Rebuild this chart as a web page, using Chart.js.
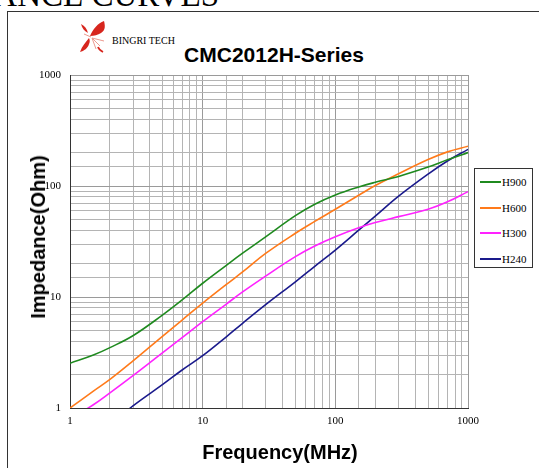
<!DOCTYPE html>
<html>
<head>
<meta charset="utf-8">
<script src="https://cdn.jsdelivr.net/npm/chart.js@4"></script>
<style>
  html, body { margin: 0; padding: 0; background: #fff; }
  #wrap { position: relative; width: 539px; height: 468px; overflow: hidden; }
  #frame { position: absolute; left: 7px; top: 11px; width: 540px; height: 470px;
           border-top: 1px solid #333; border-left: 1px solid #333; }
  #chart { position: absolute; left: 0; top: 0; }
  .txt { position: absolute; white-space: nowrap; color: #000; }
  #topText { right: 320px; top: -21px; font: 33px/33px 'Liberation Serif', serif; }
  #brand { left: 112px; top: 36px; font: 10px/10px 'Liberation Serif', serif; }
  #title { left: 274px; top: 44px; transform: translateX(-50%); font: bold 21px/21px 'Liberation Sans', Arial, sans-serif; }
  #xTitle { left: 280px; top: 442px; transform: translateX(-50%); font: bold 20px/20px 'Liberation Sans', Arial, sans-serif; }
  #yTitle { left: 38px; top: 237px; transform: translate(-50%, -50%) rotate(-90deg); font: bold 20px/20px 'Liberation Sans', Arial, sans-serif; }
  #legend { position: absolute; left: 474px; top: 168px; width: 57px; height: 98px;
            border: 1px solid #333; background: #fff; }
  .row { position: absolute; left: 0; height: 12px; }
  .row i { position: absolute; left: 5px; top: 5px; width: 21px; height: 2px; }
  .row span { position: absolute; left: 27px; top: 0; font: 11px/12px 'Liberation Serif', serif; }
</style>
</head>
<body>
<div id="wrap">
  <div id="frame"></div>
  <div class="txt" id="topText">IMPEDANCE CURVES</div>
  <svg style="position:absolute;left:79px;top:20px" width="28" height="34" viewBox="0 0 28 34">
    <path d="M11 16 C14 9 19 3 25 1 C26 5 27 10 22 13 C19 15 15 16 11 16 Z" fill="#d7261e"/>
    <path d="M2 4 C6 6 8 9 9 13 C5 11 3 8 2 4 Z" fill="#d7261e"/>
    <path d="M10 18 C7 22 3 26 1 32 C5 31 9 28 10 24 C11 22 11 20 10 18 Z" fill="#d7261e"/>
    <path d="M13 18 L21 26 M13 18 L17 29 M13 18 L25 21 M12 17 L5 14" stroke="#ec9a90" stroke-width="1" fill="none"/>
    <path d="M19 27 C20 30 22 31 24 32" stroke="#d7261e" stroke-width="1.8" fill="none"/>
  </svg>
  <div class="txt" id="brand">BINGRI TECH</div>
  <div class="txt" id="title">CMC2012H-Series</div>
  <canvas id="chart" width="539" height="468"></canvas>
  <div class="txt" id="xTitle">Frequency(MHz)</div>
  <div class="txt" id="yTitle">Impedance(Ohm)</div>
  <div id="legend"></div>
</div>
<script>
// frequency points (MHz)
const FREQ = [1, 1.5, 2, 3, 5, 7, 10, 15, 20, 30, 50, 70, 100, 150, 200, 300, 500, 700, 1000];

// impedance (Ohm)
const H900 = [2.53, 3.0, 3.5, 4.5, 6.9, 9.4, 13.3, 19.2, 24.8, 35, 54, 68.5, 83, 98, 108, 122, 148, 172, 200];
const H600 = [1, 1.42, 1.81, 2.67, 4.45, 6.2, 8.8, 12.9, 16.8, 24.8, 37.5, 48, 61.7, 82.5, 101, 129, 173, 203, 228];
const H300 = [0.8, 1.07, 1.37, 1.97, 3.16, 4.3, 6.0, 8.6, 11.1, 15.5, 23.1, 28.8, 34.9, 42, 46.8, 53, 61.7, 72, 89];
const H240 = [null, null, 0.70, 1.05, 1.63, 2.2, 2.96, 4.36, 5.8, 8.57, 13.7, 18.9, 26.5, 40, 53.5, 81, 128, 168, 214];

const SERIES = ['H900', 'H600', 'H300', 'H240'];
const COLORS = ['#1f8a1f', '#ff7a1a', '#ff22ff', '#1a1a8c'];
const DECADES = [1, 10, 100, 1000];

const values = [H900, H600, H300, H240];

const datasets = SERIES.map((name, i) => ({
  label: name,
  data: FREQ.map((f, j) => ({ x: f, y: values[i][j] })),
  borderColor: COLORS[i],
  borderWidth: 1.6,
  pointRadius: 0,
  tension: 0.4,
  fill: false
}));

const tickFont = { family: "'Liberation Serif', serif", size: 11 };
const label = v => DECADES.includes(v) ? String(v) : '';
const gridColor = ctx => DECADES.includes(ctx.tick && ctx.tick.value) ? '#9a9a9a' : '#b4b4b4';

new Chart(document.getElementById('chart'), {
  type: 'line',
  data: { datasets },
  options: {
    responsive: false,
    animation: false,
    devicePixelRatio: 1,
    layout: { padding: { top: 75, right: 71, left: 0, bottom: 0 } },
    plugins: { legend: { display: false }, tooltip: { enabled: false } },
    scales: {
      x: {
        type: 'logarithmic',
        min: 1, max: 1000,
        afterFit: s => { s.height = 60; },
        border: { color: '#333', width: 1 },
        grid: { color: gridColor, drawTicks: false },
        ticks: { autoSkip: false, maxRotation: 0, padding: 7, color: '#000', font: tickFont, callback: label }
      },
      y: {
        type: 'logarithmic',
        min: 1, max: 1000,
        afterFit: s => { s.width = 70; },
        border: { color: '#333', width: 1 },
        grid: { color: gridColor, drawTicks: false },
        ticks: { autoSkip: false, padding: 9, color: '#000', font: tickFont, callback: label }
      }
    }
  }
});

// legend box
const legend = document.getElementById('legend');
SERIES.forEach((name, i) => {
  const row = document.createElement('div');
  row.className = 'row';
  row.style.top = (7 + i * 25.6) + 'px';
  row.innerHTML = '<i style="background:' + COLORS[i] + '"></i><span>' + name + '</span>';
  legend.appendChild(row);
});
</script>
</body>
</html>
